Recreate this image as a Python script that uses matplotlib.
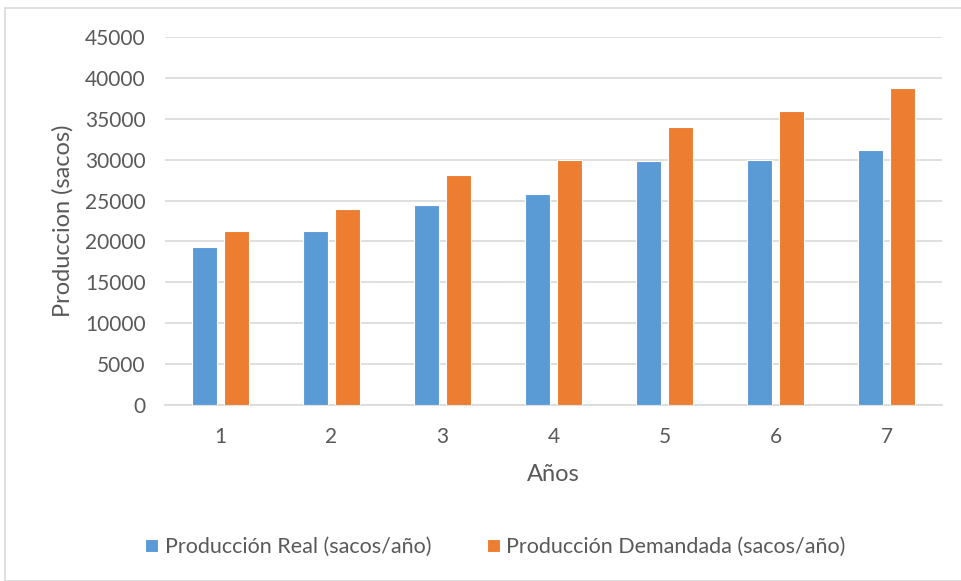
import numpy as np
import matplotlib.pyplot as plt
from matplotlib.patches import Rectangle

years = ["1", "2", "3", "4", "5", "6", "7"]
real = [19300, 21300, 24500, 25800, 29800, 30000, 31200]
demandada = [21300, 24000, 28100, 30000, 34000, 36000, 38800]
y_ticks = list(range(0, 45001, 5000))

BLUE = "#5B9BD5"
ORANGE = "#ED7D31"
TEXT = "#595959"
GRID = "#D9D9D9"

plt.rcParams["font.family"] = ["Lato", "DejaVu Sans"]

fig = plt.figure(figsize=(9.62, 5.81), dpi=100)
# chart frame
fig.patches.append(Rectangle((5 / 962, 0), 1, 1 - 8 / 581, transform=fig.transFigure,
                             fill=False, edgecolor="#D9D9D9", linewidth=1.2))

ax = fig.add_axes([165 / 962, 1 - 405 / 581, 777 / 962, 368 / 581])

x = np.arange(len(years))
w = 0.23
off = 0.145
ax.bar(x - off, real, w, color=BLUE, edgecolor="white", linewidth=0.8,
       label="Producción Real (sacos/año)", zorder=3)
ax.bar(x + off, demandada, w, color=ORANGE, edgecolor="white", linewidth=0.8,
       label="Producción Demandada (sacos/año)", zorder=3)

ax.set_xlim(-0.5, len(years) - 0.5)
ax.set_ylim(0, 45000)
ax.set_yticks(y_ticks)
ax.set_xticks(x)
ax.set_xticklabels(years)
ax.grid(axis="y", color=GRID, linewidth=1.2, zorder=0)
ax.tick_params(axis="both", length=0, colors=TEXT, labelsize=15)
ax.tick_params(axis="y", pad=14)
ax.tick_params(axis="x", pad=16)
for side in ["top", "right", "left"]:
    ax.spines[side].set_visible(False)
ax.spines["bottom"].set_color(GRID)
ax.spines["bottom"].set_linewidth(1.2)

ax.set_xlabel("Años", fontsize=17, color=TEXT, labelpad=12)
ax.set_ylabel("Produccion (sacos)", fontsize=17, color=TEXT, labelpad=8)

fig.legend(loc="center", bbox_to_anchor=(0.515, 1 - 547 / 581), ncol=2, frameon=False,
           fontsize=15.5, labelcolor=TEXT, handlelength=0.6, handleheight=0.6,
           handletextpad=0.3, columnspacing=2.6)

fig.savefig("out.png", dpi=100)
